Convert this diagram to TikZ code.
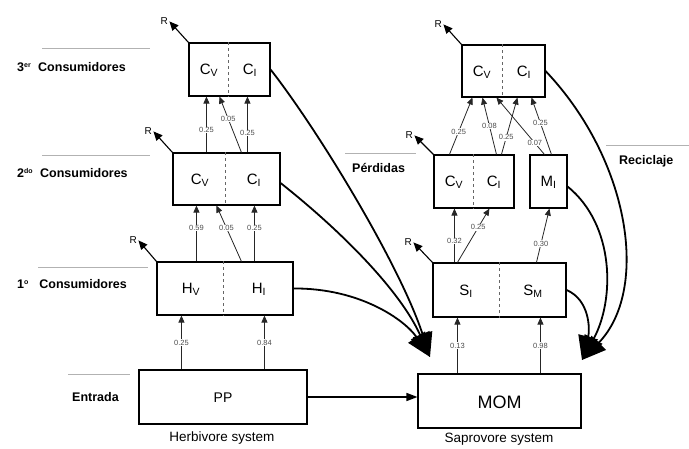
\documentclass[tikz,border=0pt]{standalone}
\usepackage{fontspec}
\setmainfont{Liberation Sans}
\usetikzlibrary{arrows.meta,calc}
\begin{document}
\begin{tikzpicture}[x=1pt,y=-1pt,
  box/.style={draw, line width=1.1pt, inner sep=0pt},
  divider/.style={draw=black!60, dashed, line width=0.9pt},
  flow/.style={line width=0.8pt, draw=black!85, -{Triangle[length=7pt,width=6pt]}},
  num/.style={fill=white, inner sep=0.6pt, font=\fontsize{7.5}{8}\selectfont, text=black!70},
  resp/.style={line width=1.1pt, -{Triangle[length=9pt,width=8pt]}},
  rlab/.style={anchor=east, inner sep=1pt, font=\fontsize{10}{11}\selectfont},
  lvl/.style={font=\bfseries\fontsize{12.5}{14}\selectfont, anchor=west, inner sep=0pt},
  lvlline/.style={draw=black!30, line width=0.6pt},
  big/.style={line width=1.8pt, -{Triangle[length=24pt,width=20pt]}},
  lab/.style={font=\fontsize{15}{17}\selectfont, inner sep=0pt},
  sys/.style={font=\fontsize{13.5}{15}\selectfont, inner sep=0pt},
]
\useasboundingbox (0,0) rectangle (689,449);

% ---------- left column (herbivore system) ----------
\node[box, minimum width=81pt, minimum height=53pt] (L3) at (229.5,69.5) {};
\node[box, minimum width=107pt, minimum height=52pt] (L2) at (226.5,179) {};
\node[box, minimum width=136pt, minimum height=53pt] (L1) at (225,288.5) {};
\node[box, minimum width=168pt, minimum height=54pt] (PP) at (223,397) {};

\draw[divider] ($(L3.north west)+(40,0)$) -- ($(L3.south west)+(40,0)$);
\draw[divider] ($(L2.north west)+(53,0)$) -- ($(L2.south west)+(53,0)$);
\draw[divider] ($(L1.north west)+(67,0)$) -- ($(L1.south west)+(67,0)$);

\node[lab] (L3v) at (209,70) {C\textsubscript{V}};
\node[lab] (L3i) at (250,70) {C\textsubscript{I}};
\node[lab] (L2v) at (200,180) {C\textsubscript{V}};
\node[lab] (L2i) at (254,180) {C\textsubscript{I}};
\node[lab] (L1v) at (191,289) {H\textsubscript{V}};
\node[lab] (L1i) at (259,289) {H\textsubscript{I}};
\node[font=\fontsize{14}{16}\selectfont] (PPt) at (223,398) {PP};

% ---------- right column (saprovore system) ----------
\node[box, minimum width=83pt, minimum height=52pt] (R3) at (503.5,71) {};
\node[box, minimum width=80pt, minimum height=53pt] (R2) at (474,181.5) {};
\node[box, minimum width=37pt, minimum height=53pt] (MI) at (548.5,181.5) {};
\node[box, minimum width=133pt, minimum height=54pt] (R1) at (499.5,290) {};
\node[box, minimum width=163pt, minimum height=54pt] (MOM) at (499.5,401) {};

\draw[divider] ($(R3.north west)+(41,0)$) -- ($(R3.south west)+(41,0)$);
\draw[divider] ($(R2.north west)+(40,0)$) -- ($(R2.south west)+(40,0)$);
\draw[divider] ($(R1.north west)+(67,0)$) -- ($(R1.south west)+(67,0)$);

\node[lab] (R3v) at (482,72) {C\textsubscript{V}};
\node[lab] (R3i) at (524,72) {C\textsubscript{I}};
\node[lab] (R2v) at (454,182) {C\textsubscript{V}};
\node[lab] (R2i) at (494,182) {C\textsubscript{I}};
\node[lab] (MIt) at (548.5,182) {M\textsubscript{I}};
\node[lab] (R1i) at (466,291) {S\textsubscript{I}};
\node[lab] (R1m) at (533,291) {S\textsubscript{M}};
\node[font=\fontsize{18}{20}\selectfont] (MOMt) at (499.5,402) {MOM};

% ---------- level labels ----------
\draw[lvlline] (42,48) -- (150,48);
\draw[lvlline] (42,155) -- (150,155);
\draw[lvlline] (38,267) -- (148,267);
\draw[lvlline] (68,374) -- (130,374);
\draw[lvlline] (345,153) -- (416,153);
\draw[lvlline] (606,145) -- (689,145);
\node[lvl] (n3) at (17,67) {3\textsuperscript{\fontsize{7}{8}\selectfont er}\ \ Consumidores};
\node[lvl] (n2) at (17,173) {2\textsuperscript{\fontsize{7}{8}\selectfont do}\ \ Consumidores};
\node[lvl] (n1) at (17,284) {1\textsuperscript{\fontsize{7}{8}\selectfont o}\ \ \ Consumidores};
\node[lvl] (ne) at (72,397) {Entrada};
\node[lvl] (np) at (352,168) {Pérdidas};
\node[lvl] (nr) at (619,161) {Reciclaje};
\node[sys] (hs) at (222,438) {Herbivore system};
\node[sys] (ss) at (499,439) {Saprovore system};

% ---------- respiration arrows ----------
\draw[resp] (L3.north west) -- ++(-19,-21) node[rlab] (rl3) {R};
\draw[resp] (L2.north west) -- ++(-19,-21) node[rlab] (rl2) {R};
\draw[resp] (L1.north west) -- ++(-18,-21) node[rlab] (rl1) {R};
\draw[resp] (R3.north west) -- ++(-18,-20) node[rlab] (rr3) {R};
\draw[resp] (R2.north west) -- ++(-19,-19) node[rlab] (rr2) {R};
\draw[resp] (R1.north west) -- ++(-19,-20) node[rlab] (rr1) {R};

% ---------- left flows ----------
\draw[flow] ($(PP.north west)+(43,0)$) -- ($(L1.south west)+(25,0)$) node[num, pos=0.5] {0.25};
\draw[flow] ($(PP.north west)+(126,0)$) -- ($(L1.south west)+(108,0)$) node[num, pos=0.5] {0.84};
\draw[flow] ($(L1.north west)+(40,0)$) -- ($(L2.south west)+(24,0)$) node[num, pos=0.6] {0.59};
\draw[flow] ($(L1.north west)+(85,0)$) -- ($(L2.south west)+(44,0)$) node[num, pos=0.6] {0.05};
\draw[flow] ($(L1.north west)+(98,0)$) -- ($(L2.south west)+(82,0)$) node[num, pos=0.6] {0.25};
\draw[flow] ($(L2.north west)+(34,0)$) -- ($(L3.south west)+(18,0)$) node[num, pos=0.4] {0.25};
\draw[flow] ($(L2.north west)+(69,0)$) -- ($(L3.south west)+(31,0)$) node[num, pos=0.6] {0.05};
\draw[flow] ($(L2.north west)+(75,0)$) -- ($(L3.south west)+(59,0)$) node[num, pos=0.35] {0.25};

% ---------- right flows ----------
\draw[flow] ($(MOM.north west)+(40,0)$) -- ($(R1.south west)+(25,0)$) node[num, pos=0.5] {0.13};
\draw[flow] ($(MOM.north west)+(123,0)$) -- ($(R1.south west)+(108,0)$) node[num, pos=0.5] {0.98};
\draw[flow] ($(R1.north west)+(22,0)$) -- ($(R2.south west)+(21,0)$) node[num, pos=0.4] {0.32};
\draw[flow] ($(R1.north west)+(25,0)$) -- ($(R2.south west)+(56,0)$) node[num, pos=0.65] {0.25};
\draw[flow] ($(R1.north west)+(104,0)$) -- ($(MI.south west)+(20,0)$) node[num, pos=0.35] {0.30};
\draw[flow] ($(R2.north west)+(16,0)$) -- ($(R3.south west)+(11,0)$) node[num, pos=0.4] {0.25};
\draw[flow] ($(R2.north west)+(63,0)$) -- ($(R3.south west)+(21,0)$) node[num, pos=0.5] {0.08};
\draw[flow] ($(R2.north west)+(68,0)$) -- ($(R3.south west)+(56,0)$) node[num, pos=0.3] {0.25};
\draw[flow] ($(MI.north west)+(15,0)$) -- ($(R3.south west)+(35,0)$) node[num, pos=0.2] {0.07};
\draw[flow] ($(MI.north west)+(22,0)$) -- ($(R3.south west)+(70,0)$) node[num, pos=0.55] {0.25};

% ---------- PP to MOM ----------
\draw[line width=1.4pt, -{Triangle[length=11pt,width=8pt]}] (PP.east) -- (PP.east -| MOM.west);

% ---------- losses (Pérdidas) ----------
\coordinate (lt) at (430,357);
\draw[big] (L3.east) .. controls (318,130) and (400,265) .. (lt);
\draw[big] ($(L2.east)+(0,4)$) .. controls (340,230) and (400,290) .. (lt);
\draw[big] (L1.east) .. controls (360,288) and (405,320) .. (lt);

% ---------- recycling (Reciclaje) ----------
\coordinate (rt) at (582,360);
\draw[big] (R3.east) .. controls (630,160) and (650,290) .. (rt);
\draw[big] ($(MI.east)+(0,5)$) .. controls (615,225) and (615,300) .. (rt);
\draw[big] (R1.east) .. controls (590,300) and (590,330) .. (rt);
\end{tikzpicture}
\end{document}
